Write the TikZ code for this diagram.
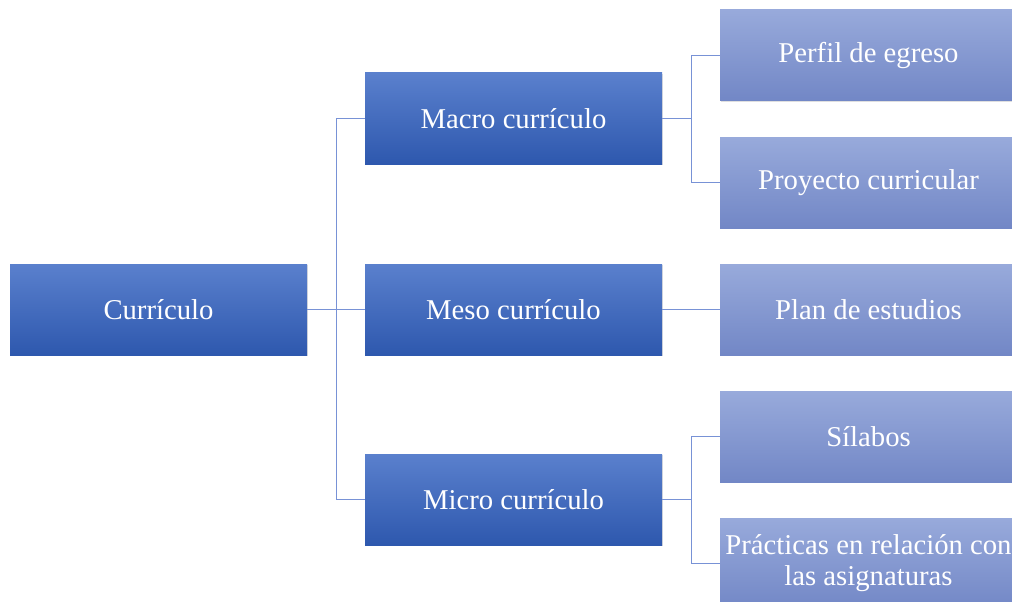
\documentclass[tikz,border=0pt]{standalone}
\usepackage{fontspec}
\setmainfont{Liberation Serif}
\usetikzlibrary{positioning,shadows,calc}

\definecolor{darktop}{RGB}{90,128,205}
\definecolor{darkbot}{RGB}{46,88,174}
\definecolor{lighttop}{RGB}{152,170,219}
\definecolor{lightbot}{RGB}{114,135,198}
\definecolor{linkblue}{RGB}{120,146,214}

\begin{document}
\begin{tikzpicture}[x=1pt,y=-1pt,
  box/.style={rectangle, minimum width=297pt, minimum height=91pt, inner sep=0pt, outer sep=0pt,
    text=white, align=center, font=\fontsize{28.7}{31}\selectfont,
    drop shadow={shadow xshift=1.2pt, shadow yshift=-1.2pt, opacity=0.25}},
  dark/.style={box, top color=darktop, bottom color=darkbot},
  light/.style={box, top color=lighttop, bottom color=lightbot},
  link/.style={draw=linkblue, line width=0.9pt}]
  \clip (0,0) rectangle (1012,602);

  % root and middle level
  \node[dark] (cur) at (158.5,309.5) {Currículo};
  \node[dark, right=58pt of cur] (meso) {Meso currículo};
  \node[dark, right=58pt of cur, yshift=191pt] (macro) {Macro currículo};
  \node[dark, right=58pt of cur, yshift=-190pt] (micro) {Micro currículo};

  % right level
  \node[light, right=58pt of macro, yshift=63.5pt] (perfil) {Perfil de egreso};
  \node[light, right=58pt of macro, yshift=-64pt] (proy) {Proyecto curricular};
  \node[light, right=58pt of meso] (plan) {Plan de estudios};
  \node[light, right=58pt of micro, yshift=63pt] (silabos) {Sílabos};
  \node[light, right=58pt of micro, yshift=-64pt] (pract) {Prácticas en relación con\\las asignaturas};

  % connectors
  \coordinate (j1) at ($(cur.east)!0.5!(meso.west)$);
  \coordinate (j2) at ($(macro.east)!0.5!(macro.east -| proy.west)$);
  \coordinate (j3) at ($(micro.east)!0.5!(micro.east -| pract.west)$);
  \draw[link] (cur.east) -- (meso.west);
  \draw[link] (j1) |- (macro.west);
  \draw[link] (j1) |- (micro.west);
  \draw[link] (macro.east) -- (j2) |- (perfil.west);
  \draw[link] (j2) |- (proy.west);
  \draw[link] (meso.east) -- (plan.west);
  \draw[link] (micro.east) -- (j3) |- (silabos.west);
  \draw[link] (j3) |- (pract.west);
\end{tikzpicture}
\end{document}
